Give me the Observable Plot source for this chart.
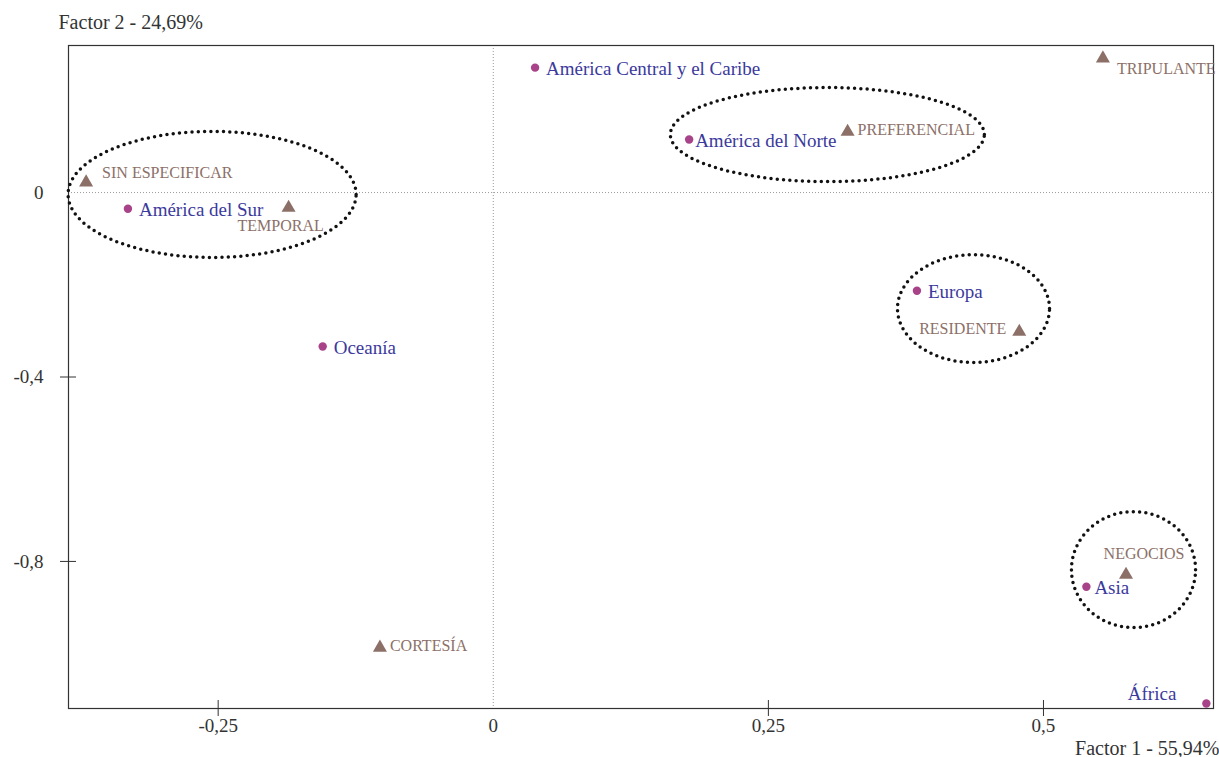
<!DOCTYPE html>
<html>
<head>
<meta charset="utf-8">
<script src="https://cdn.jsdelivr.net/npm/d3@7"></script>
<script src="https://cdn.jsdelivr.net/npm/@observablehq/plot@0.6"></script>
<style>
  html, body { margin: 0; padding: 0; background: #fff; }
  #chart svg { display: block; }
</style>
</head>
<body>
<div id="chart"></div>
<script>
// Countries (circles)
const countryNames = ["América Central y el Caribe", "América del Norte", "América del Sur", "Oceanía", "Europa", "Asia", "África"];
const countryX = [0.038, 0.178, -0.332, -0.155, 0.385, 0.539, 0.648];
const countryY = [0.271, 0.115, -0.035, -0.334, -0.213, -0.855, -1.108];

// Visa categories (triangles)
const categoryNames = ["TRIPULANTE", "PREFERENCIAL", "SIN ESPECIFICAR", "TEMPORAL", "RESIDENTE", "NEGOCIOS", "CORTESÍA"];
const categoryX = [0.554, 0.322, -0.370, -0.186, 0.478, 0.575, -0.103];
const categoryY = [0.291, 0.132, 0.022, -0.033, -0.302, -0.829, -0.987];

// Grouping ellipses (centre and radii in data units)
const ellipseCX = [-0.2555, 0.3036, 0.4364, 0.5818];
const ellipseCY = [-0.004, 0.1258, -0.2516, -0.8178];
const ellipseRX = [0.1309, 0.1427, 0.0691, 0.0564];
const ellipseRY = [0.1367, 0.102, 0.117, 0.1258];

const xTicks = [-0.25, 0, 0.25, 0.5];
const yTicks = [0, -0.4, -0.8];

const countries = countryNames.map((name, i) => ({name, x: countryX[i], y: countryY[i]}));
const categories = categoryNames.map((name, i) => ({name, x: categoryX[i], y: categoryY[i]}));
const ellipsePts = [];
ellipseCX.forEach((cx, k) => {
  for (let j = 0; j < 120; j++) {
    const t = (j / 120) * 2 * Math.PI;
    ellipsePts.push({g: k, x: cx + ellipseRX[k] * Math.cos(t), y: ellipseCY[k] + ellipseRY[k] * Math.sin(t)});
  }
});

const fmt = d => String(d).replace(".", ",");
const serif = "'Liberation Serif', 'DejaVu Serif', serif";
const cText = "#3b3a9c", cDot = "#a8438a", cTri = "#8c7068";

const lab = (arr, names, opts) => Plot.text(arr.filter(d => names.includes(d.name)), {x: "x", y: "y", text: "name", ...opts});

const chart = Plot.plot({
  width: 1219,
  height: 757,
  marginLeft: 68,
  marginRight: 6,
  marginTop: 45,
  marginBottom: 49,
  style: {fontFamily: serif, background: "#fff"},
  x: {domain: [-0.386, 0.6545]},
  y: {domain: [-1.119, 0.319]},
  marks: [
    Plot.ruleX([0], {stroke: "#9a9a9a", strokeDasharray: "1 2", strokeWidth: 1}),
    Plot.ruleY([0], {stroke: "#9a9a9a", strokeDasharray: "1 2", strokeWidth: 1}),
    Plot.frame({stroke: "#333", strokeWidth: 1.2}),
    Plot.axisX([-0.25, 0.25, 0.5], {tickSize: 8, text: null, stroke: "#333", label: null}),
    Plot.axisX([-0.25, 0.25, 0.5], {tickSize: -8, text: null, stroke: "#333", label: null}),
    Plot.axisX(xTicks, {tickSize: 0, tickPadding: 10, tickFormat: fmt, fontSize: 19, fill: "#333", label: null}),
    Plot.axisY([-0.4, -0.8], {tickSize: 8, text: null, stroke: "#333", label: null}),
    Plot.axisY([-0.4, -0.8], {tickSize: -8, text: null, stroke: "#333", label: null}),
    Plot.axisY(yTicks, {tickSize: 0, tickPadding: 25, tickFormat: fmt, fontSize: 19, fill: "#333", label: null}),
    Plot.line(ellipsePts, {x: "x", y: "y", z: "g", curve: "linear-closed", stroke: "#111", strokeWidth: 3.5, strokeDasharray: "0 6.3", strokeLinecap: "round"}),
    Plot.dot(countries, {x: "x", y: "y", r: 4.2, fill: cDot}),
    Plot.dot(categories, {x: "x", y: "y", symbol: "triangle", r: 5.2, fill: cTri}),
    // country labels
    lab(countries, ["América Central y el Caribe", "América del Sur", "Oceanía", "Europa"], {textAnchor: "start", dx: 11, dy: 1, fill: cText, fontSize: 19}),
    lab(countries, ["América del Norte"], {textAnchor: "start", dx: 6, dy: 1, fill: cText, fontSize: 19}),
    lab(countries, ["Asia"], {textAnchor: "start", dx: 8, dy: 1, fill: cText, fontSize: 19}),
    lab(countries, ["África"], {textAnchor: "end", dx: -30, dy: -10, fill: cText, fontSize: 19}),
    // category labels
    lab(categories, ["TRIPULANTE"], {textAnchor: "start", dx: 14, dy: 10, fill: cTri, fontSize: 16}),
    lab(categories, ["PREFERENCIAL", "CORTESÍA"], {textAnchor: "start", dx: 10, dy: -2, fill: cTri, fontSize: 16}),
    lab(categories, ["SIN ESPECIFICAR"], {textAnchor: "start", dx: 16, dy: -10, fill: cTri, fontSize: 16}),
    lab(categories, ["TEMPORAL"], {textAnchor: "middle", dx: -8, dy: 18, fill: cTri, fontSize: 16}),
    lab(categories, ["RESIDENTE"], {textAnchor: "end", dx: -13, dy: -3, fill: cTri, fontSize: 16}),
    lab(categories, ["NEGOCIOS"], {textAnchor: "middle", dx: 18, dy: -21, fill: cTri, fontSize: 16}),
    // axis titles
    Plot.text(["Factor 2 - 24,69%"], {frameAnchor: "top-left", dx: -10, dy: -31, textAnchor: "start", fontSize: 20, fill: "#333"}),
    Plot.text(["Factor 1 - 55,94%"], {frameAnchor: "bottom-right", dx: 6, dy: 46, textAnchor: "end", fontSize: 20, fill: "#333"})
  ]
});
document.getElementById("chart").appendChild(chart);
</script>
</body>
</html>
